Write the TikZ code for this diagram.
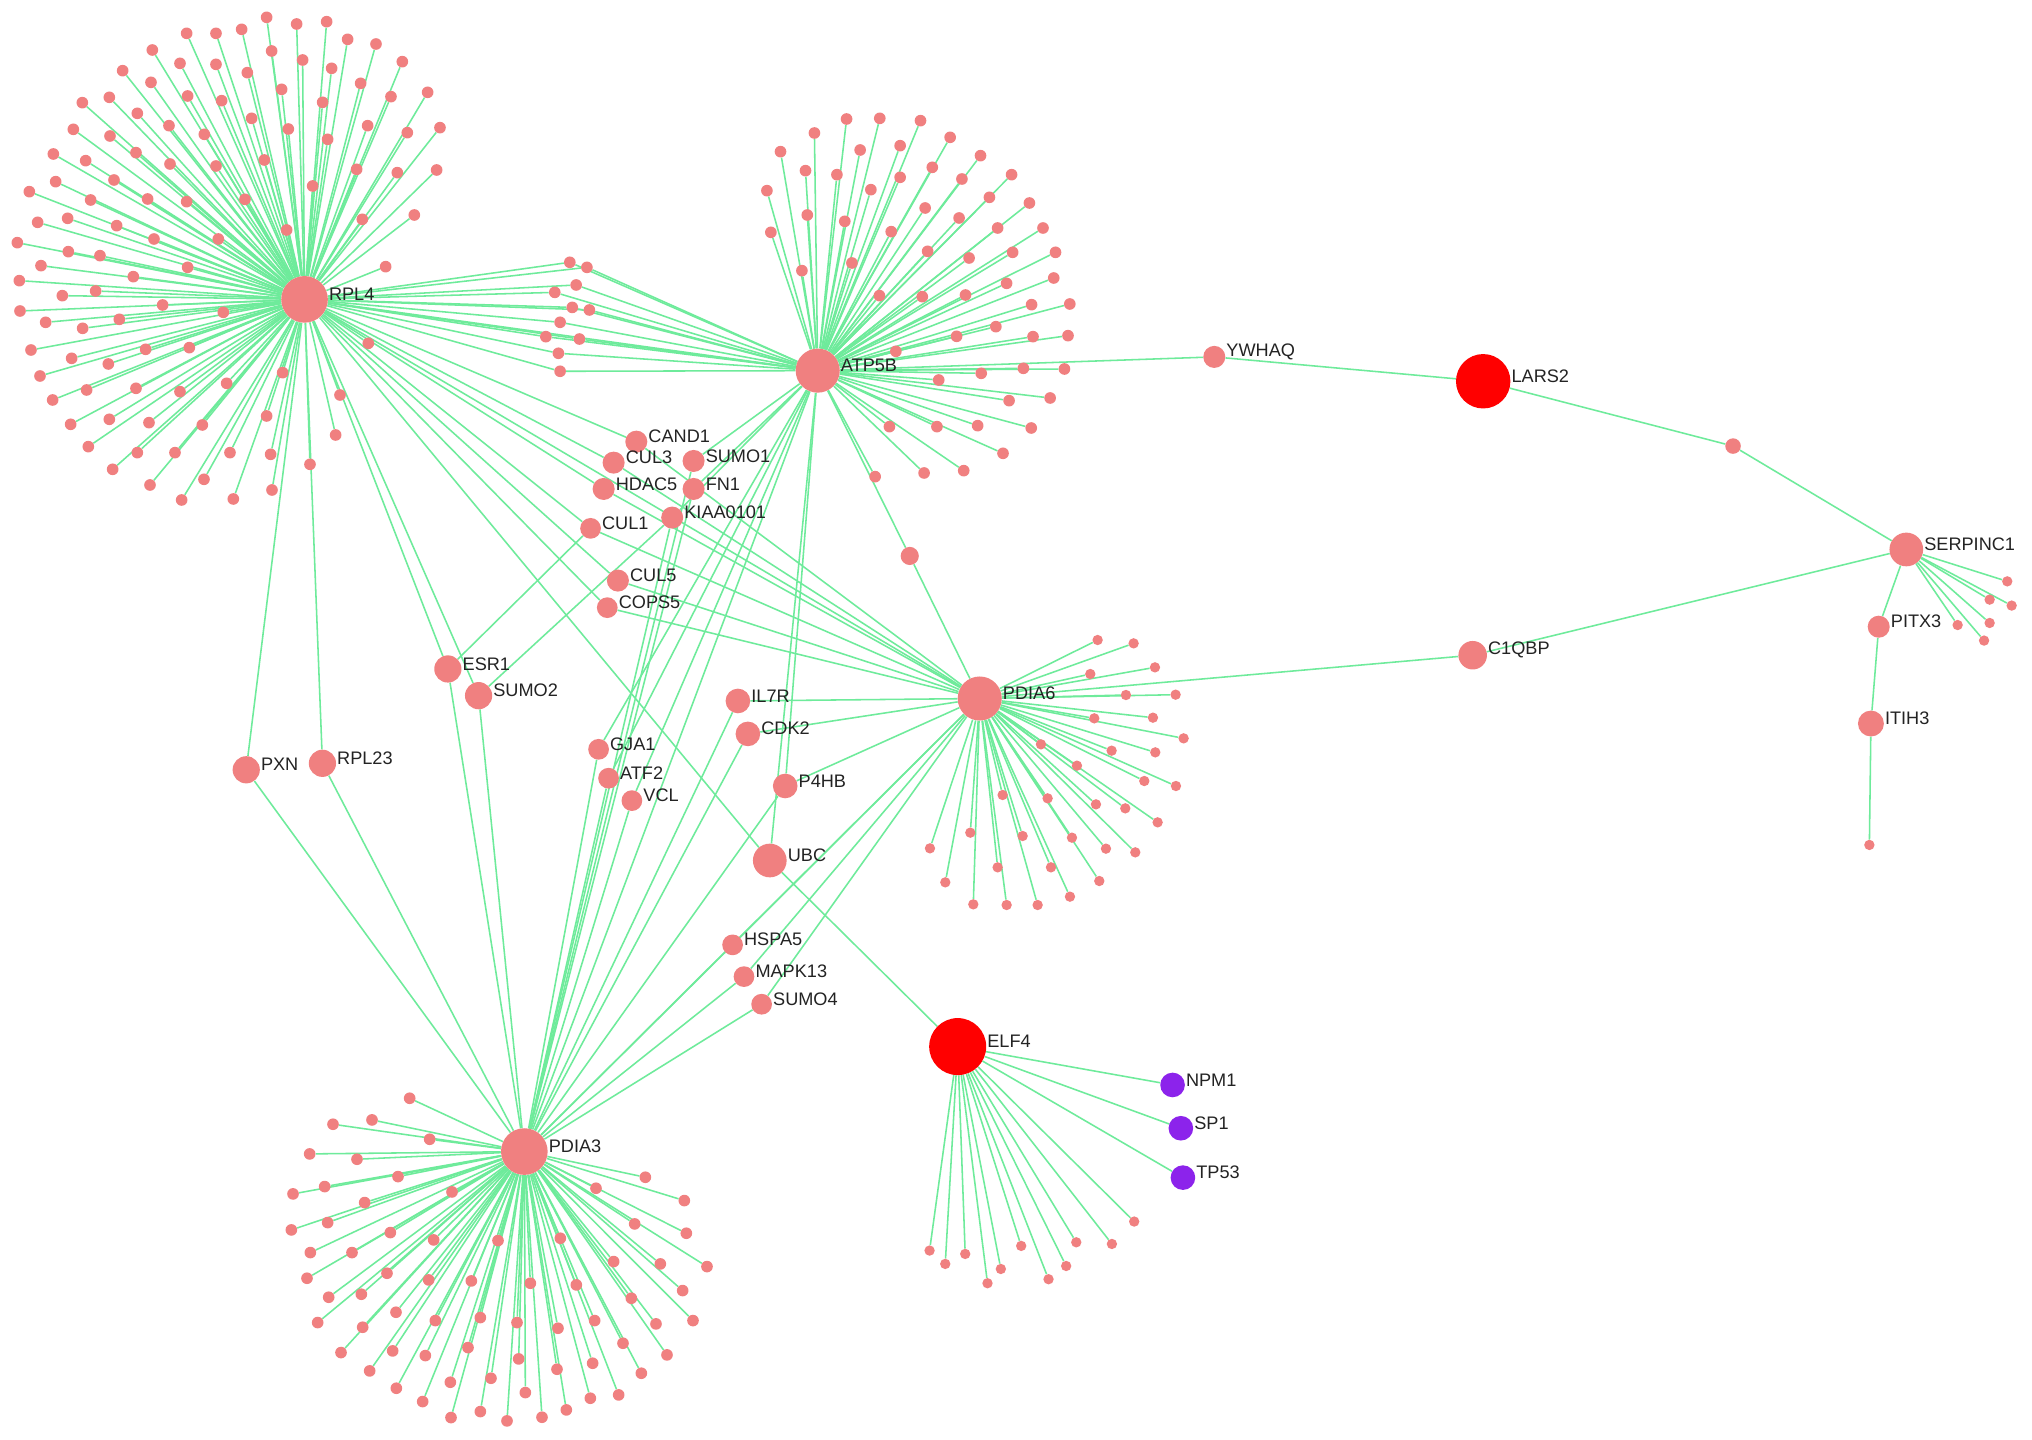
\documentclass[tikz,border=0pt]{standalone}
\usepackage{fontspec}
\setmainfont{Liberation Sans}
\pgfdeclarelayer{edges}
\pgfsetlayers{edges,main}
\definecolor{nodecol}{RGB}{240,128,128}
\definecolor{hotcol}{RGB}{255,0,0}
\definecolor{purp}{RGB}{140,35,235}
\definecolor{edgecol}{RGB}{110,235,155}
\definecolor{labcol}{RGB}{35,35,35}
\tikzset{
  gnode/.style={circle, fill=nodecol, inner sep=0pt, minimum size=#1},
  rednode/.style={circle, fill=hotcol, inner sep=0pt, minimum size=#1},
  purpnode/.style={circle, fill=purp, inner sep=0pt, minimum size=#1},
  leaf/.style={circle, fill=nodecol, inner sep=0pt, minimum size=9pt},
  sleaf/.style={circle, fill=nodecol, inner sep=0pt, minimum size=8pt},
  edge/.style={draw=edgecol, line width=1.2pt},
  lab/.style={font=\fontsize{14}{16}\selectfont, text=labcol, inner sep=0.5pt, yshift=4pt}
}
\def\rpllist{800/52, 890/72, 980/65, 560/100, 648/100, 725/88, 1043/118, 1128/132, 457/150, 815/153, 908/180, 540/190, 648/193, 742/218, 995/205, 1207/185, 368/212, 453/247, 1082/250, 845/268, 1283/277, 247/308, 328/292, 563/288, 665/302, 968/307, 1173/290, 412/340, 755/355, 1320/383, 220/388, 330/408, 507/377, 613/403, 865/387, 1103/377, 1222/398, 983/418, 160/462, 408/458, 257/482, 510/492, 648/498, 793/480, 1070/508, 1192/518, 1310/510, 167/545, 342/540, 938/558, 88/575, 272/600, 443/597, 560/605, 735/598, 1243/645, 1087/658, 113/667, 203/655, 350/677, 462/717, 655/717, 860/690, 52/728, 205/755, 300/767, 563/802, 123/797, 400/830, 1157/800, 58/842, 287/873, 187/887, 488/915, 670/937, 60/933, 358/958, 137/967, 248/985, 93/1050, 215/1075, 437/1048, 568/1043, 1105/1030, 325/1092, 120/1128, 848/1118, 680/1150, 158/1200, 260/1170, 408/1165, 540/1175, 1020/1185, 212/1273, 447/1268, 607/1275, 800/1248, 328/1258, 265/1340, 1007/1305, 412/1358, 525/1358, 690/1358, 812/1363, 338/1408, 930/1393, 450/1455, 612/1438, 545/1500, 700/1497, 816/1470}
\def\sharedlist{439.7/202.4, 452.9/206.3, 444.6/219.9, 428.1/225.6, 441.6/237.2, 454.8/239.2, 432.2/248.7, 421.2/259.8, 447.1/261.6, 430.9/272.6, 432.2/286.5}
\def\atplist{920/45, 1013/43, 1127/50, 830/87, 1210/100, 735/143, 958/138, 1070/125, 1295/155, 805/200, 893/212, 1070/220, 1160/190, 1243/225, 1382/212, 697/260, 988/257, 1320/280, 1432/297, 810/333, 915/352, 1140/312, 1235/342, 1045/383, 1343/372, 1470/372, 708/385, 1147/442, 1263/462, 1385/445, 1505/445, 935/477, 795/500, 1368/538, 1500/522, 1012/575, 1132/578, 1253/573, 1438/602, 1545/600, 1338/668, 1228/697, 1442/698, 1540/695, 1058/742, 1297/808, 1415/793, 1530/795, 1178/828, 1375/890, 1490/882, 1040/968, 1173/968, 1287/965, 1437/972, 1358/1048, 1137/1107, 1248/1100, 1000/1118}
\def\pdiasixlist{650/120, 758/130, 628/222, 822/202, 735/285, 884/284, 640/355, 816/353, 908/415, 480/433, 692/452, 823/457, 588/497, 790/543, 885/558, 365/585, 500/595, 645/613, 733/625, 830/667, 268/698, 425/708, 573/713, 675/746, 763/757, 147/745, 350/802, 510/802, 655/843, 193/847, 567/890, 277/913, 377/915, 470/915}
\def\pdiathreelist{413/85, 183/163, 300/150, 473/208, 113/252, 255/268, 378/320, 1120/322, 63/372, 158/350, 540/366, 972/355, 1237/392, 278/398, 58/480, 167/458, 355/488, 1088/462, 1243/490, 485/510, 678/512, 865/505, 115/548, 240/548, 1305/590, 105/625, 345/610, 470/630, 598/633, 775/640, 913/645, 1025/575, 1165/582, 1232/662, 170/682, 268/673, 1078/685, 137/758, 372/727, 490/752, 625/743, 735/758, 858/775, 968/752, 1152/762, 1263/752, 272/772, 207/848, 362/843, 460/857, 588/833, 740/867, 962/880, 1053/820, 1185/855, 293/903, 535/937, 657/925, 855/898, 1108/910, 373/955, 760/968, 452/995, 955/985, 1040/975, 537/1043, 625/1025, 705/1053, 810/1042, 883/1020}
\def\elflist{717.3/965, 729.4/975.3, 744.8/967.6, 762/990.2, 772.3/979.2, 788/961.4, 809.1/987.1, 822.7/976.9, 830.5/958.6, 858/959.9, 875.2/942.6}
\def\serplist{1548.9/448.6, 1535.3/462.7, 1552.3/467.3, 1510.6/482.3, 1535.3/480.7, 1531/494.3}
\begin{document}
\begin{tikzpicture}[x=1pt,y=-1pt]
\useasboundingbox (0,0) rectangle (1568,1111);

% hubs and named nodes
\node[gnode=36pt, label={[lab]east:RPL4}] (RPL4) at (235,231) {};
\node[gnode=34pt, label={[lab]east:ATP5B}] (ATP5B) at (631,286) {};
\node[gnode=34pt, label={[lab]east:PDIA6}] (PDIA6) at (756,539) {};
\node[gnode=36pt, label={[lab]east:PDIA3}] (PDIA3) at (404.6,888.6) {};
\node[rednode=44pt, label={[lab]east:ELF4}] (ELF4) at (739,807.6) {};
\node[rednode=42pt, label={[lab]east:LARS2}] (LARS2) at (1144.5,294.2) {};
\node[gnode=26pt, label={[lab]east:UBC}] (UBC) at (594,664) {};
\node[gnode=26pt, label={[lab]east:SERPINC1}] (SERPINC1) at (1471,424) {};
\node[gnode=22pt, label={[lab]east:C1QBP}] (C1QBP) at (1136.4,505.6) {};
\node[gnode=20pt, label={[lab]east:ITIH3}] (ITIH3) at (1443.7,558.3) {};
\node[gnode=17pt, label={[lab]east:PITX3}] (PITX3) at (1449.7,483.6) {};
\node[gnode=17pt, label={[lab]east:YWHAQ}] (YWHAQ) at (937,275.4) {};
\node[gnode=21pt, label={[lab]east:PXN}] (PXN) at (190,594) {};
\node[gnode=21pt, label={[lab]east:RPL23}] (RPL23) at (248.8,589) {};
\node[gnode=21pt, label={[lab]east:ESR1}] (ESR1) at (345.6,516.2) {};
\node[gnode=21pt, label={[lab]east:SUMO2}] (SUMO2) at (369.3,536.8) {};
\node[gnode=19pt, label={[lab]east:IL7R}] (IL7R) at (569.4,540.9) {};
\node[gnode=19pt, label={[lab]east:CDK2}] (CDK2) at (577.1,566.3) {};
\node[gnode=19pt, label={[lab]east:P4HB}] (P4HB) at (605.9,606.5) {};
\node[gnode=16pt, label={[lab]east:GJA1}] (GJA1) at (461.9,578.2) {};
\node[gnode=16pt, label={[lab]east:ATF2}] (ATF2) at (469.6,600.5) {};
\node[gnode=16pt, label={[lab]east:VCL}] (VCL) at (487.6,617.8) {};
\node[gnode=17pt, label={[lab]east:CAND1}] (CAND1) at (491,340.8) {};
\node[gnode=17pt, label={[lab]east:CUL3}] (CUL3) at (473.5,357) {};
\node[gnode=17pt, label={[lab]east:SUMO1}] (SUMO1) at (535.2,355.7) {};
\node[gnode=17pt, label={[lab]east:HDAC5}] (HDAC5) at (465.8,377.3) {};
\node[gnode=17pt, label={[lab]east:FN1}] (FN1) at (535.2,377.3) {};
\node[gnode=17pt, label={[lab]east:KIAA0101}] (KIAA0101) at (518.7,399.4) {};
\node[gnode=16pt, label={[lab]east:CUL1}] (CUL1) at (455.7,407.7) {};
\node[gnode=17pt, label={[lab]east:CUL5}] (CUL5) at (476.8,448) {};
\node[gnode=16pt, label={[lab]east:COPS5}] (COPS5) at (468.6,468.9) {};
\node[gnode=16pt, label={[lab]east:HSPA5}] (HSPA5) at (565.3,729.1) {};
\node[gnode=16pt, label={[lab]east:MAPK13}] (MAPK13) at (574.1,753.6) {};
\node[gnode=16pt, label={[lab]east:SUMO4}] (SUMO4) at (587.7,774.9) {};
\node[purpnode=19pt, label={[lab]east:NPM1}] (NPM1) at (904.8,837.2) {};
\node[purpnode=19pt, label={[lab]east:SP1}] (SP1) at (911.2,870.6) {};
\node[purpnode=19pt, label={[lab]east:TP53}] (TP53) at (912.8,908.7) {};
\node[gnode=14pt] (m1) at (702,429) {};
\node[gnode=12pt] (m2) at (1337.3,344.2) {};
\node[sleaf] (itl) at (1442.5,652) {};

% leaves
\foreach \x/\y [count=\i] in \rpllist {\node[leaf] (ra\i) at ({\x/3.888},{\y/3.888}) {};}
\foreach \x/\y [count=\i] in \sharedlist {\node[leaf] (sh\i) at (\x,\y) {};}
\foreach \x/\y [count=\i] in \atplist {\node[leaf] (aa\i) at ({399.7+\x*0.2756},{80.25+\y*0.2572}) {};}
\foreach \x/\y [count=\i] in \pdiasixlist {\node[sleaf] (pa\i) at ({679.8+\x*0.2572},{463+\y*0.2572}) {};}
\foreach \x/\y [count=\i] in \pdiathreelist {\node[leaf] (pb\i) at ({209.9+\x*0.2572},{825.6+\y*0.2572}) {};}
\foreach \x/\y [count=\i] in \elflist {\node[sleaf] (ea\i) at (\x,\y) {};}
\foreach \x/\y [count=\i] in \serplist {\node[sleaf] (sa\i) at (\x,\y) {};}

% edges (on a layer beneath the nodes, on a white ground)
\begin{pgfonlayer}{edges}
\fill[white] (0,0) rectangle (1568,1111);
\draw[edge] (RPL4) -- (ATP5B);
\draw[edge] (RPL4) -- (PDIA6);
\draw[edge] (ATP5B) -- (PDIA3);
\draw[edge] (PDIA6) -- (PDIA3);
\draw[edge] (ATP5B) -- (m1) -- (PDIA6);
\draw[edge] (ATP5B) -- (YWHAQ) -- (LARS2) -- (m2) -- (SERPINC1);
\draw[edge] (PDIA6) -- (C1QBP) -- (SERPINC1);
\draw[edge] (SERPINC1) -- (PITX3) -- (ITIH3) -- (itl);
\foreach \n in {PXN,RPL23,ESR1,SUMO2}{\draw[edge] (RPL4) -- (\n) -- (PDIA3);}
\foreach \n in {CAND1,CUL3,HDAC5,CUL1,CUL5,COPS5}{\draw[edge] (RPL4) -- (\n) -- (PDIA6);}
\foreach \n in {SUMO1,FN1,KIAA0101,GJA1,ATF2,VCL}{\draw[edge] (ATP5B) -- (\n) -- (PDIA3);}
\foreach \n in {IL7R,CDK2,P4HB,HSPA5,MAPK13,SUMO4}{\draw[edge] (PDIA6) -- (\n) -- (PDIA3);}
\draw[edge] (ATP5B) -- (P4HB);
\draw[edge] (ESR1) -- (CUL1);
\draw[edge] (SUMO2) -- (KIAA0101);
\draw[edge] (RPL4) -- (UBC) -- (ELF4);
\draw[edge] (ATP5B) -- (UBC);
\foreach \n in {NPM1,SP1,TP53}{\draw[edge] (ELF4) -- (\n);}
\foreach \x/\y [count=\i] in \rpllist {\draw[edge] (RPL4) -- (ra\i);}
\foreach \x/\y [count=\i] in \sharedlist {\draw[edge] (RPL4) -- (sh\i) -- (ATP5B);}
\foreach \x/\y [count=\i] in \atplist {\draw[edge] (ATP5B) -- (aa\i);}
\foreach \x/\y [count=\i] in \pdiasixlist {\draw[edge] (PDIA6) -- (pa\i);}
\foreach \x/\y [count=\i] in \pdiathreelist {\draw[edge] (PDIA3) -- (pb\i);}
\foreach \x/\y [count=\i] in \elflist {\draw[edge] (ELF4) -- (ea\i);}
\foreach \x/\y [count=\i] in \serplist {\draw[edge] (SERPINC1) -- (sa\i);}
\end{pgfonlayer}
\end{tikzpicture}
\end{document}
